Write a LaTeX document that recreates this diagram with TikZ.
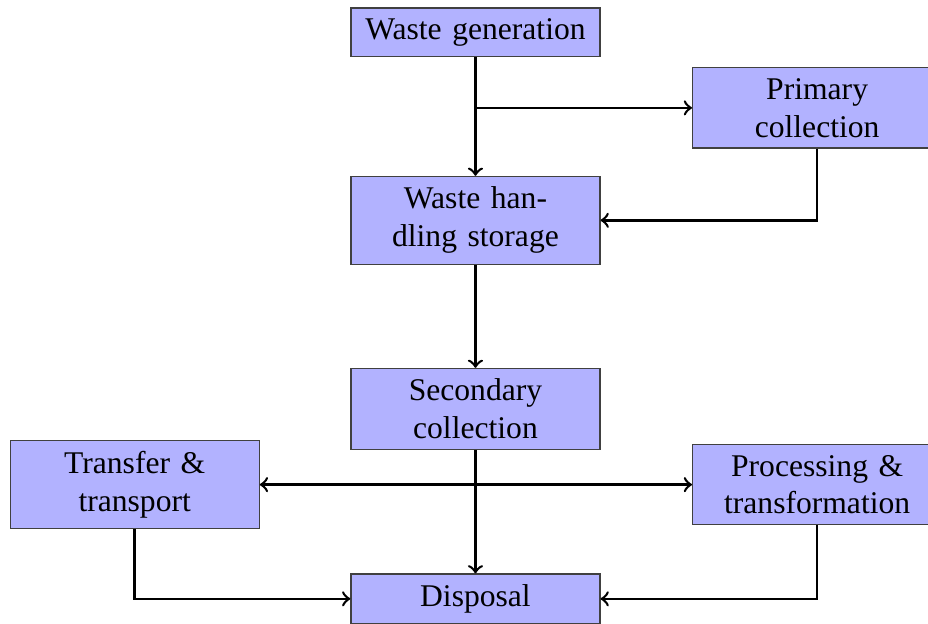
\documentclass[tikz,border=0pt]{standalone}
\usepackage{fontspec}
\setmainfont{Liberation Serif}
\usepackage{tikz}
\usetikzlibrary{arrows}
\usetikzlibrary{positioning}

\tikzset{
    stage/.style={draw=black!75,fill=blue!30,text width=2.12cm,minimum width=2.77cm,align=center},
    flow/.style={->,thick}
}

\begin{document}
\begin{tikzpicture}

        \useasboundingbox (-5.288,-6.929) rectangle (5.033,0);

        \node[stage,text width=2.5cm] (gen) at (0,-0.36) {Waste generation};
        \node[stage] (prim) at (3.8,-1.2) {Primary collection};
        \node[stage] (stor) at (0,-2.45) {Waste han-\\dling storage};
        \node[stage] (sec) at (0,-4.55) {Secondary collection};
        \node[stage] (trans) at (-3.79,-5.39) {Transfer \& transport};
        \node[stage] (proc) at (3.8,-5.39) {Processing \& transformation};
        \node[stage] (disp) at (0,-6.66) {Disposal};

        \draw[flow] (gen.south) -- (stor.north);
        \draw[flow] (gen.south |- prim.west) -- (prim.west);
        \draw[flow] (prim.south) |- (stor.east);

        \draw[flow] (stor.south) -- (sec.north);
        \draw[flow] (sec.south) -- (disp.north);

        \draw[flow] (sec.south |- trans.east) -- (trans.east);
        \draw[flow] (sec.south |- proc.west) -- (proc.west);

        \draw[flow] (trans.south) |- (disp.west);
        \draw[flow] (proc.south) |- (disp.east);

    \end{tikzpicture}
\end{document}
